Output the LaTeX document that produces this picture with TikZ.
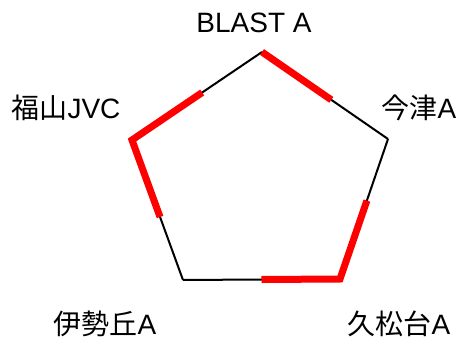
\documentclass[tikz,border=0pt]{standalone}
\usepackage{fontspec}
\setmainfont{Liberation Sans}
\newfontfamily\jp{Noto Sans CJK JP}
\usetikzlibrary{calc}

\begin{document}
\begin{tikzpicture}
  [x=1pt,y=-1pt,every node/.style={inner sep=0pt,font=\fontsize{28}{30}\selectfont},
   edge/.style={line width=2pt},win/.style={red,line width=7pt}]
  \useasboundingbox (0,0) rectangle (461,340);
  \coordinate (blast) at (262,52);
  \coordinate (imazu) at (388,139);
  \coordinate (hisa) at (340,279);
  \coordinate (ise) at (183,280);
  \coordinate (fuku) at (132,140);

  \node (lblast) at (254,23) {BLAST A};
  \node (limazu) at (419,108) {{\jp 今津}A};
  \node (lhisa) at (399,324) {{\jp 久松台}A};
  \node (lise) at (105,324) {{\jp 伊勢丘}A};
  \node (lfuku) at (66,108) {{\jp 福山}JVC};

  \foreach \from/\to in {blast/imazu,imazu/hisa,hisa/ise,ise/fuku,fuku/blast}
    \draw[edge] (\from) -- (\to);

  \draw[win] (blast) -- ($(blast)!.55!(imazu)$);
  \draw[win] ($(fuku)!.54!(blast)$) -- (fuku) -- ($(fuku)!.55!(ise)$);
  \draw[win] ($(hisa)!.5!(ise)$) -- (hisa) -- ($(hisa)!.56!(imazu)$);

\end{tikzpicture}
\end{document}
